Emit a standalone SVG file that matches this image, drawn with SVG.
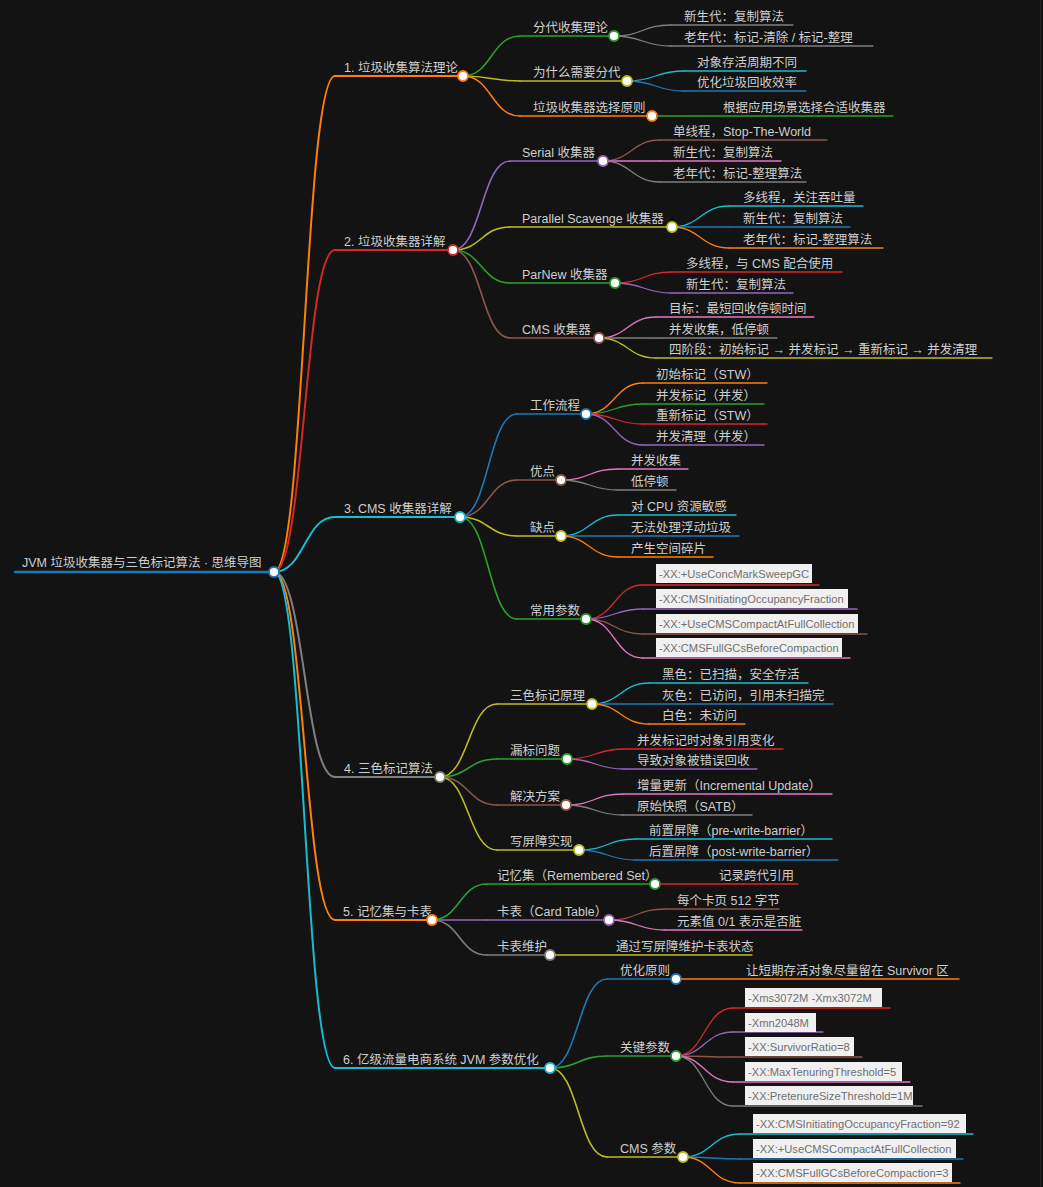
<svg xmlns="http://www.w3.org/2000/svg" width="1043" height="1187" viewBox="0 0 1043 1187">
<style>
.t{font-family:"Liberation Sans","Noto Sans CJK SC",sans-serif;font-size:12.5px;fill:#cecece}
.bt{font-family:"Liberation Sans","Noto Sans CJK SC",sans-serif;font-size:11.2px;fill:#707070}
.box{fill:#f0f0f0}
.ln{fill:none;stroke-linecap:round}
.w0{stroke-width:2.5}.w1{stroke-width:2}.w2{stroke-width:1.6}.w3{stroke-width:1.3}
.dot{fill:#fff;stroke-width:1.8}
.cb{stroke:#1f77b4}.co{stroke:#ff7f0e}.cg{stroke:#2ca02c}.cr{stroke:#d62728}.cp{stroke:#9467bd}
.cn{stroke:#8c564b}.ck{stroke:#e377c2}.cy{stroke:#7f7f7f}.cl{stroke:#bcbd22}.cc{stroke:#17becf}
</style>
<rect width="1043" height="1187" fill="#131313"/>
<rect x="1040" y="0" width="1" height="1187" fill="#222"/>
<g id="connectors">
<path class="ln co w1" d="M274,572 C304.5,572 304.5,76 335,76"/>
<path class="ln cr w1" d="M274,572 C304.5,572 304.5,250 335,250"/>
<path class="ln cc w1" d="M274,572 C304.5,572 304.5,517 335,517"/>
<path class="ln cy w1" d="M274,572 C304.5,572 304.5,777 335,777"/>
<path class="ln co w1" d="M274,572 C304.5,572 304.5,920 335,920"/>
<path class="ln cc w1" d="M274,572 C304.5,572 304.5,1068 335,1068"/>
<path class="ln cg w2" d="M463,76 C491.5,76 491.5,36 520,36"/>
<path class="ln cl w2" d="M463,76 C491.5,76 491.5,81 520,81"/>
<path class="ln co w2" d="M463,76 C491.5,76 491.5,116 520,116"/>
<path class="ln cy w3" d="M614,36 C642.5,36 642.5,25 671,25"/>
<path class="ln cy w3" d="M614,36 C642.5,36 642.5,46 671,46"/>
<path class="ln cc w3" d="M627,81 C655.5,81 655.5,71 684,71"/>
<path class="ln cb w3" d="M627,81 C655.5,81 655.5,91 684,91"/>
<path class="ln cp w2" d="M453,250 C481.5,250 481.5,161 510,161"/>
<path class="ln cl w2" d="M453,250 C481.5,250 481.5,227 510,227"/>
<path class="ln cg w2" d="M453,250 C481.5,250 481.5,283 510,283"/>
<path class="ln cn w2" d="M453,250 C481.5,250 481.5,338 510,338"/>
<path class="ln cn w3" d="M603,161 C631.5,161 631.5,140 660,140"/>
<path class="ln ck w3" d="M603,161 C631.5,161 631.5,161 660,161"/>
<path class="ln cy w3" d="M603,161 C631.5,161 631.5,182 660,182"/>
<path class="ln cc w3" d="M672,227 C700.5,227 700.5,206 729,206"/>
<path class="ln cb w3" d="M672,227 C700.5,227 700.5,227 729,227"/>
<path class="ln co w3" d="M672,227 C700.5,227 700.5,248 729,248"/>
<path class="ln cr w3" d="M615,283 C643.5,283 643.5,272 672,272"/>
<path class="ln cp w3" d="M615,283 C643.5,283 643.5,293 672,293"/>
<path class="ln ck w3" d="M599,338 C627.5,338 627.5,317 656,317"/>
<path class="ln cy w3" d="M599,338 C627.5,338 627.5,338 656,338"/>
<path class="ln cl w3" d="M599,338 C627.5,338 627.5,358 656,358"/>
<path class="ln cb w2" d="M460,517 C488.5,517 488.5,414 517,414"/>
<path class="ln cn w2" d="M460,517 C488.5,517 488.5,480 517,480"/>
<path class="ln cl w2" d="M460,517 C488.5,517 488.5,536 517,536"/>
<path class="ln cg w2" d="M460,517 C488.5,517 488.5,619 517,619"/>
<path class="ln co w3" d="M586,414 C614.5,414 614.5,383 643,383"/>
<path class="ln cg w3" d="M586,414 C614.5,414 614.5,404 643,404"/>
<path class="ln cr w3" d="M586,414 C614.5,414 614.5,424 643,424"/>
<path class="ln cp w3" d="M586,414 C614.5,414 614.5,445 643,445"/>
<path class="ln ck w3" d="M561,480 C589.5,480 589.5,469 618,469"/>
<path class="ln cy w3" d="M561,480 C589.5,480 589.5,490 618,490"/>
<path class="ln cc w3" d="M561,536 C589.5,536 589.5,515 618,515"/>
<path class="ln cb w3" d="M561,536 C589.5,536 589.5,536 618,536"/>
<path class="ln co w3" d="M561,536 C589.5,536 589.5,557 618,557"/>
<path class="ln cr w3" d="M586,619 C614.5,619 614.5,585 643,585"/>
<path class="ln cp w3" d="M586,619 C614.5,619 614.5,609 643,609"/>
<path class="ln cn w3" d="M586,619 C614.5,619 614.5,634 643,634"/>
<path class="ln ck w3" d="M586,619 C614.5,619 614.5,658 643,658"/>
<path class="ln cl w2" d="M440,777 C468.5,777 468.5,704 497,704"/>
<path class="ln cg w2" d="M440,777 C468.5,777 468.5,759 497,759"/>
<path class="ln cn w2" d="M440,777 C468.5,777 468.5,805 497,805"/>
<path class="ln cl w2" d="M440,777 C468.5,777 468.5,850 497,850"/>
<path class="ln cc w3" d="M592,704 C620.5,704 620.5,683 649,683"/>
<path class="ln cb w3" d="M592,704 C620.5,704 620.5,704 649,704"/>
<path class="ln co w3" d="M592,704 C620.5,704 620.5,724 649,724"/>
<path class="ln cr w3" d="M567,759 C595.5,759 595.5,749 624,749"/>
<path class="ln cp w3" d="M567,759 C595.5,759 595.5,769 624,769"/>
<path class="ln ck w3" d="M566,805 C594.5,805 594.5,794 623,794"/>
<path class="ln cy w3" d="M566,805 C594.5,805 594.5,815 623,815"/>
<path class="ln cc w3" d="M579,850 C607.5,850 607.5,839 636,839"/>
<path class="ln cb w3" d="M579,850 C607.5,850 607.5,860 636,860"/>
<path class="ln cg w2" d="M432,920 C459.5,920 459.5,884 487,884"/>
<path class="ln cp w2" d="M432,920 C459.5,920 459.5,920 487,920"/>
<path class="ln cy w2" d="M432,920 C459.5,920 459.5,955 487,955"/>
<path class="ln cn w3" d="M609,920 C637,920 637,909 665,909"/>
<path class="ln ck w3" d="M609,920 C637,920 637,930 665,930"/>
<path class="ln cb w2" d="M550,1068 C578.5,1068 578.5,979 607,979"/>
<path class="ln cg w2" d="M550,1068 C578.5,1068 578.5,1056 607,1056"/>
<path class="ln cl w2" d="M550,1068 C578.5,1068 578.5,1157 607,1157"/>
<path class="ln cr w3" d="M676,1056 C704.5,1056 704.5,1008 733,1008"/>
<path class="ln cp w3" d="M676,1056 C704.5,1056 704.5,1032 733,1032"/>
<path class="ln cn w3" d="M676,1056 C704.5,1056 704.5,1057 733,1057"/>
<path class="ln ck w3" d="M676,1056 C704.5,1056 704.5,1082 733,1082"/>
<path class="ln cy w3" d="M676,1056 C704.5,1056 704.5,1106 733,1106"/>
<path class="ln cc w3" d="M683,1157 C711.5,1157 711.5,1134 740,1134"/>
<path class="ln cb w3" d="M683,1157 C711.5,1157 711.5,1159 740,1159"/>
<path class="ln co w3" d="M683,1157 C711.5,1157 711.5,1183 740,1183"/>
</g>

<g id="root"><path class="ln cb w0" d="M15,572H274"/><text class="t" x="22" y="567">JVM 垃圾收集器与三色标记算法 · 思维导图</text><circle class="dot cb" cx="274" cy="572" r="5"/></g>

<g id="s1"><path class="ln co w1" d="M335,76H463"/><text class="t" x="344" y="72">1. 垃圾收集算法理论</text><circle class="dot co" cx="463" cy="76" r="5"/></g>
<g id="s1-1"><path class="ln cg w2" d="M520,36H614"/><text class="t" x="533" y="32">分代收集理论</text><circle class="dot cg" cx="614" cy="36" r="5"/></g>
<g id="s1-1-1"><path class="ln cy w3" d="M671,25H793"/><text class="t" x="684" y="21">新生代：复制算法</text></g>
<g id="s1-1-2"><path class="ln cy w3" d="M671,46H873"/><text class="t" x="684" y="42">老年代：标记-清除 / 标记-整理</text></g>
<g id="s1-2"><path class="ln cl w2" d="M520,81H627"/><text class="t" x="533" y="77">为什么需要分代</text><circle class="dot cl" cx="627" cy="81" r="5"/></g>
<g id="s1-2-1"><path class="ln cc w3" d="M684,71H806"/><text class="t" x="697" y="67">对象存活周期不同</text></g>
<g id="s1-2-2"><path class="ln cb w3" d="M684,91H806"/><text class="t" x="697" y="87">优化垃圾回收效率</text></g>
<g id="s1-3"><path class="ln co w2" d="M520,116H652"/><text class="t" x="533" y="112">垃圾收集器选择原则</text><circle class="dot co" cx="652" cy="116" r="5"/></g>
<g id="s1-3-1"><path class="ln cg w3" d="M657,116H893"/><text class="t" x="723" y="112">根据应用场景选择合适收集器</text></g>

<g id="s2"><path class="ln cr w1" d="M335,250H453"/><text class="t" x="344" y="246">2. 垃圾收集器详解</text><circle class="dot cr" cx="453" cy="250" r="5"/></g>
<g id="s2-1"><path class="ln cp w2" d="M510,161H603"/><text class="t" x="522" y="157">Serial 收集器</text><circle class="dot cp" cx="603" cy="161" r="5"/></g>
<g id="s2-1-1"><path class="ln cn w3" d="M660,140H827"/><text class="t" x="673" y="136">单线程，Stop-The-World</text></g>
<g id="s2-1-2"><path class="ln ck w3" d="M660,161H781"/><text class="t" x="673" y="157">新生代：复制算法</text></g>
<g id="s2-1-3"><path class="ln cy w3" d="M660,182H806"/><text class="t" x="673" y="178">老年代：标记-整理算法</text></g>
<g id="s2-2"><path class="ln cl w2" d="M510,227H672"/><text class="t" x="522" y="223">Parallel Scavenge 收集器</text><circle class="dot cl" cx="672" cy="227" r="5"/></g>
<g id="s2-2-1"><path class="ln cc w3" d="M729,206H863"/><text class="t" x="743" y="202">多线程，关注吞吐量</text></g>
<g id="s2-2-2"><path class="ln cb w3" d="M729,227H850"/><text class="t" x="743" y="223">新生代：复制算法</text></g>
<g id="s2-2-3"><path class="ln co w3" d="M729,248H883"/><text class="t" x="743" y="244">老年代：标记-整理算法</text></g>
<g id="s2-3"><path class="ln cg w2" d="M510,283H615"/><text class="t" x="522" y="279">ParNew 收集器</text><circle class="dot cg" cx="615" cy="283" r="5"/></g>
<g id="s2-3-1"><path class="ln cr w3" d="M672,272H842"/><text class="t" x="686" y="268">多线程，与 CMS 配合使用</text></g>
<g id="s2-3-2"><path class="ln cp w3" d="M672,293H793"/><text class="t" x="686" y="289">新生代：复制算法</text></g>
<g id="s2-4"><path class="ln cn w2" d="M510,338H599"/><text class="t" x="522" y="334">CMS 收集器</text><circle class="dot cn" cx="599" cy="338" r="5"/></g>
<g id="s2-4-1"><path class="ln ck w3" d="M656,317H814"/><text class="t" x="669" y="313">目标：最短回收停顿时间</text></g>
<g id="s2-4-2"><path class="ln cy w3" d="M656,338H777"/><text class="t" x="669" y="334">并发收集，低停顿</text></g>
<g id="s2-4-3"><path class="ln cl w3" d="M656,358H992"/><text class="t" x="669" y="354">四阶段：初始标记 → 并发标记 → 重新标记 → 并发清理</text></g>

<g id="s3"><path class="ln cc w1" d="M335,517H460"/><text class="t" x="344" y="513">3. CMS 收集器详解</text><circle class="dot cc" cx="460" cy="517" r="5"/></g>
<g id="s3-1"><path class="ln cb w2" d="M517,414H586"/><text class="t" x="530" y="410">工作流程</text><circle class="dot cb" cx="586" cy="414" r="5"/></g>
<g id="s3-1-1"><path class="ln co w3" d="M643,383H767"/><text class="t" x="656" y="379">初始标记（STW）</text></g>
<g id="s3-1-2"><path class="ln cg w3" d="M643,404H764"/><text class="t" x="656" y="400">并发标记（并发）</text></g>
<g id="s3-1-3"><path class="ln cr w3" d="M643,424H767"/><text class="t" x="656" y="420">重新标记（STW）</text></g>
<g id="s3-1-4"><path class="ln cp w3" d="M643,445H764"/><text class="t" x="656" y="441">并发清理（并发）</text></g>
<g id="s3-2"><path class="ln cn w2" d="M517,480H561"/><text class="t" x="530" y="476">优点</text><circle class="dot cn" cx="561" cy="480" r="5"/></g>
<g id="s3-2-1"><path class="ln ck w3" d="M618,469H688"/><text class="t" x="631" y="465">并发收集</text></g>
<g id="s3-2-2"><path class="ln cy w3" d="M618,490H676"/><text class="t" x="631" y="486">低停顿</text></g>
<g id="s3-3"><path class="ln cl w2" d="M517,536H561"/><text class="t" x="530" y="532">缺点</text><circle class="dot cl" cx="561" cy="536" r="5"/></g>
<g id="s3-3-1"><path class="ln cc w3" d="M618,515H736"/><text class="t" x="631" y="511">对 CPU 资源敏感</text></g>
<g id="s3-3-2"><path class="ln cb w3" d="M618,536H739"/><text class="t" x="631" y="532">无法处理浮动垃圾</text></g>
<g id="s3-3-3"><path class="ln co w3" d="M618,557H713"/><text class="t" x="631" y="553">产生空间碎片</text></g>
<g id="s3-4"><path class="ln cg w2" d="M517,619H586"/><text class="t" x="530" y="615">常用参数</text><circle class="dot cg" cx="586" cy="619" r="5"/></g>
<g id="s3-4-1"><path class="ln cr w3" d="M643,585H819"/><rect class="box" x="656" y="564" width="156" height="19"/><text class="bt" x="659" y="578">-XX:+UseConcMarkSweepGC</text></g>
<g id="s3-4-2"><path class="ln cp w3" d="M643,609H857"/><rect class="box" x="656" y="589" width="192" height="19"/><text class="bt" x="659" y="603">-XX:CMSInitiatingOccupancyFraction</text></g>
<g id="s3-4-3"><path class="ln cn w3" d="M643,634H867"/><rect class="box" x="656" y="614" width="202" height="19"/><text class="bt" x="659" y="628">-XX:+UseCMSCompactAtFullCollection</text></g>
<g id="s3-4-4"><path class="ln ck w3" d="M643,658H850"/><rect class="box" x="656" y="638" width="186" height="19"/><text class="bt" x="659" y="652">-XX:CMSFullGCsBeforeCompaction</text></g>

<g id="s4"><path class="ln cy w1" d="M335,777H440"/><text class="t" x="344" y="773">4. 三色标记算法</text><circle class="dot cy" cx="440" cy="777" r="5"/></g>
<g id="s4-1"><path class="ln cl w2" d="M497,704H592"/><text class="t" x="510" y="700">三色标记原理</text><circle class="dot cl" cx="592" cy="704" r="5"/></g>
<g id="s4-1-1"><path class="ln cc w3" d="M649,683H808"/><text class="t" x="662" y="679">黑色：已扫描，安全存活</text></g>
<g id="s4-1-2"><path class="ln cb w3" d="M649,704H833"/><text class="t" x="662" y="700">灰色：已访问，引用未扫描完</text></g>
<g id="s4-1-3"><path class="ln co w3" d="M649,724H745"/><text class="t" x="662" y="720">白色：未访问</text></g>
<g id="s4-2"><path class="ln cg w2" d="M497,759H567"/><text class="t" x="510" y="755">漏标问题</text><circle class="dot cg" cx="567" cy="759" r="5"/></g>
<g id="s4-2-1"><path class="ln cr w3" d="M624,749H783"/><text class="t" x="637" y="745">并发标记时对象引用变化</text></g>
<g id="s4-2-2"><path class="ln cp w3" d="M624,769H757"/><text class="t" x="637" y="765">导致对象被错误回收</text></g>
<g id="s4-3"><path class="ln cn w2" d="M497,805H566"/><text class="t" x="510" y="801">解决方案</text><circle class="dot cn" cx="566" cy="805" r="5"/></g>
<g id="s4-3-1"><path class="ln ck w3" d="M623,794H832"/><text class="t" x="637" y="790">增量更新（Incremental Update）</text></g>
<g id="s4-3-2"><path class="ln cy w3" d="M623,815H752"/><text class="t" x="637" y="811">原始快照（SATB）</text></g>
<g id="s4-4"><path class="ln cl w2" d="M497,850H579"/><text class="t" x="510" y="846">写屏障实现</text><circle class="dot cl" cx="579" cy="850" r="5"/></g>
<g id="s4-4-1"><path class="ln cc w3" d="M636,839H832"/><text class="t" x="649" y="835">前置屏障（pre-write-barrier）</text></g>
<g id="s4-4-2"><path class="ln cb w3" d="M636,860H838"/><text class="t" x="649" y="856">后置屏障（post-write-barrier）</text></g>

<g id="s5"><path class="ln co w1" d="M335,920H432"/><text class="t" x="343" y="916">5. 记忆集与卡表</text><circle class="dot co" cx="432" cy="920" r="5"/></g>
<g id="s5-1"><path class="ln cg w2" d="M487,884H655"/><text class="t" x="497" y="880">记忆集（Remembered Set）</text><circle class="dot cg" cx="655" cy="884" r="5"/></g>
<g id="s5-1-1"><path class="ln cr w3" d="M660,884H798"/><text class="t" x="719" y="880">记录跨代引用</text></g>
<g id="s5-2"><path class="ln cp w2" d="M487,920H609"/><text class="t" x="497" y="916">卡表（Card Table）</text><circle class="dot cp" cx="609" cy="920" r="5"/></g>
<g id="s5-2-1"><path class="ln cn w3" d="M665,909H779"/><text class="t" x="677" y="905">每个卡页 512 字节</text></g>
<g id="s5-2-2"><path class="ln ck w3" d="M665,930H802"/><text class="t" x="677" y="926">元素值 0/1 表示是否脏</text></g>
<g id="s5-3"><path class="ln cy w2" d="M487,955H550"/><text class="t" x="497" y="951">卡表维护</text><circle class="dot cy" cx="550" cy="955" r="5"/></g>
<g id="s5-3-1"><path class="ln cl w3" d="M555,955H752"/><text class="t" x="616" y="951">通过写屏障维护卡表状态</text></g>

<g id="s6"><path class="ln cc w1" d="M335,1068H550"/><text class="t" x="343" y="1064">6. 亿级流量电商系统 JVM 参数优化</text><circle class="dot cc" cx="550" cy="1068" r="5"/></g>
<g id="s6-1"><path class="ln cb w2" d="M607,979H676"/><text class="t" x="620" y="975">优化原则</text><circle class="dot cb" cx="676" cy="979" r="5"/></g>
<g id="s6-1-1"><path class="ln co w3" d="M681,979H959"/><text class="t" x="746" y="975">让短期存活对象尽量留在 Survivor 区</text></g>
<g id="s6-2"><path class="ln cg w2" d="M607,1056H676"/><text class="t" x="620" y="1052">关键参数</text><circle class="dot cg" cx="676" cy="1056" r="5"/></g>
<g id="s6-2-1"><path class="ln cr w3" d="M733,1008H890"/><rect class="box" x="745" y="988" width="137" height="19"/><text class="bt" x="748" y="1002">-Xms3072M -Xmx3072M</text></g>
<g id="s6-2-2"><path class="ln cp w3" d="M733,1032H823"/><rect class="box" x="745" y="1013" width="71" height="19"/><text class="bt" x="748" y="1027">-Xmn2048M</text></g>
<g id="s6-2-3"><path class="ln cn w3" d="M733,1057H862"/><rect class="box" x="745" y="1037" width="109" height="19"/><text class="bt" x="748" y="1051">-XX:SurvivorRatio=8</text></g>
<g id="s6-2-4"><path class="ln ck w3" d="M733,1082H910"/><rect class="box" x="745" y="1062" width="157" height="19"/><text class="bt" x="748" y="1076">-XX:MaxTenuringThreshold=5</text></g>
<g id="s6-2-5"><path class="ln cy w3" d="M733,1106H922"/><rect class="box" x="745" y="1086" width="168" height="19"/><text class="bt" x="748" y="1100">-XX:PretenureSizeThreshold=1M</text></g>
<g id="s6-3"><path class="ln cl w2" d="M607,1157H683"/><text class="t" x="620" y="1153">CMS 参数</text><circle class="dot cl" cx="683" cy="1157" r="5"/></g>
<g id="s6-3-1"><path class="ln cc w3" d="M740,1134H973"/><rect class="box" x="753" y="1114" width="213" height="19"/><text class="bt" x="756" y="1128">-XX:CMSInitiatingOccupancyFraction=92</text></g>
<g id="s6-3-2"><path class="ln cb w3" d="M740,1159H963"/><rect class="box" x="753" y="1139" width="203" height="19"/><text class="bt" x="756" y="1153">-XX:+UseCMSCompactAtFullCollection</text></g>
<g id="s6-3-3"><path class="ln co w3" d="M740,1183H960"/><rect class="box" x="753" y="1163" width="199" height="19"/><text class="bt" x="756" y="1177">-XX:CMSFullGCsBeforeCompaction=3</text></g>
</svg>
